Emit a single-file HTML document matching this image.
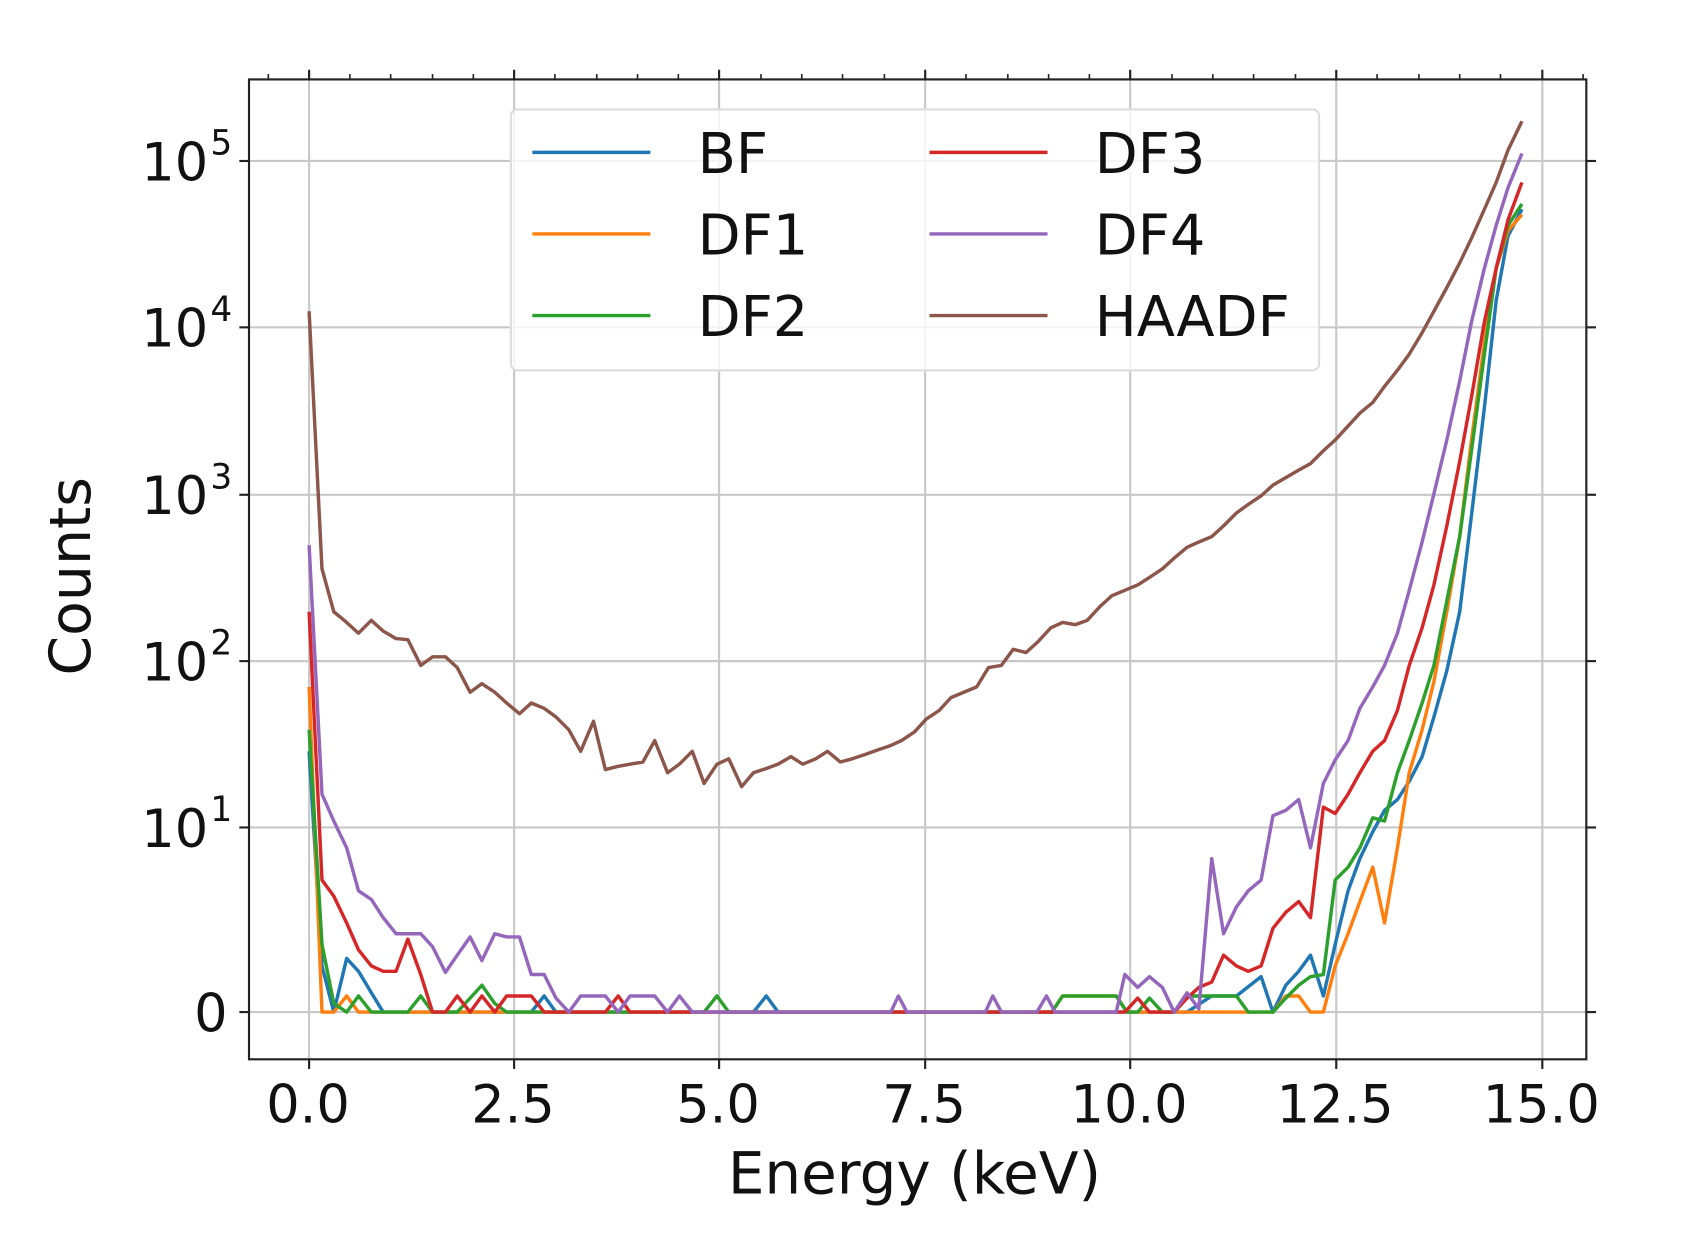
<!DOCTYPE html>
<html><head><meta charset="utf-8"><style>html,body{margin:0;padding:0;background:#fff}svg{display:block}</style></head><body>
<svg width="1684" height="1260" viewBox="0 0 1569 1174" preserveAspectRatio="none" xmlns="http://www.w3.org/2000/svg" font-family="DejaVu Sans, Liberation Sans, sans-serif">
<rect width="1569" height="1174" fill="#fff"/>
<g stroke="#c8c8c8" stroke-width="2">
<line x1="288" y1="74" x2="288" y2="987"/><line x1="479" y1="74" x2="479" y2="987"/><line x1="670" y1="74" x2="670" y2="987"/><line x1="862" y1="74" x2="862" y2="987"/><line x1="1053" y1="74" x2="1053" y2="987"/><line x1="1245" y1="74" x2="1245" y2="987"/><line x1="1437" y1="74" x2="1437" y2="987"/>
<line x1="232" y1="150" x2="1478" y2="150"/><line x1="232" y1="305" x2="1478" y2="305"/><line x1="232" y1="461" x2="1478" y2="461"/><line x1="232" y1="616" x2="1478" y2="616"/><line x1="232" y1="771" x2="1478" y2="771"/><line x1="232" y1="943" x2="1478" y2="943"/>
</g>
<g fill="none" stroke-width="3.2" stroke-linejoin="round">
<polyline stroke="#1f77b4" points="288,700 300,900 311,943 323,893 334,905 346,925 357,943 495,943 507,928 518,943 702,943 714,928 725,943 1106,943 1129,928 1152,928 1175,910 1186,943 1198,918 1210,905 1221,890 1233,928 1244,880 1256,830 1267,800 1279,775 1290,755 1302,745 1313,728 1325,705 1336,668 1348,625 1360,570 1371,480 1383,380 1394,280 1405,220 1418,195"/>
<polyline stroke="#ff7f0e" points="288,640 300,943 311,943 323,928 334,943 980,943 990,928 1040,928 1050,943 1186,943 1198,928 1210,928 1221,943 1233,943 1244,900 1256,870 1267,840 1279,808 1290,860 1302,790 1313,720 1325,680 1336,635 1348,570 1360,500 1371,410 1383,320 1394,250 1405,215 1418,200"/>
<polyline stroke="#2ca02c" points="288,680 300,880 311,935 323,943 334,928 346,943 380,943 392,928 403,943 426,943 438,930 449,918 461,935 472,943 656,943 668,928 679,943 980,943 990,928 1040,928 1050,943 1060,943 1071,930 1083,943 1094,943 1106,928 1152,928 1163,943 1186,943 1198,930 1210,918 1221,910 1233,908 1244,820 1256,808 1267,790 1279,762 1290,765 1302,720 1313,690 1325,655 1336,620 1348,560 1360,500 1371,420 1383,330 1394,250 1405,210 1418,190"/>
<polyline stroke="#d62728" points="288,570 300,820 311,835 323,860 334,885 346,900 357,905 369,905 380,875 392,908 403,943 415,943 426,928 438,943 449,928 461,943 472,928 495,928 507,943 564,943 576,928 587,943 1048,943 1060,930 1071,943 1094,943 1106,930 1117,920 1129,915 1140,890 1152,900 1163,905 1175,900 1186,865 1198,850 1210,840 1221,855 1233,752 1244,758 1256,740 1267,720 1279,700 1290,690 1302,662 1313,620 1325,585 1336,545 1348,490 1360,430 1371,370 1383,300 1394,250 1405,205 1418,170"/>
<polyline stroke="#9467bd" points="288,508 300,740 311,765 323,790 334,830 346,838 357,855 369,870 380,870 392,870 403,882 415,906 426,890 438,873 449,895 461,870 472,873 484,873 495,908 507,908 518,930 530,943 541,928 564,928 576,943 587,928 610,928 622,943 633,928 645,943 830,943 837,928 845,943 918,943 925,928 933,943 966,943 975,928 983,943 1040,943 1048,908 1060,920 1071,910 1083,920 1094,943 1106,925 1117,940 1129,800 1140,870 1152,845 1163,830 1175,820 1186,760 1198,755 1210,745 1221,790 1233,730 1244,708 1256,690 1267,660 1279,640 1290,620 1302,590 1313,550 1325,505 1336,460 1348,410 1360,355 1371,300 1383,250 1394,210 1405,175 1418,143"/>
<polyline stroke="#8c564b" points="288,290 300,530 311,570 323,580 334,590 346,578 357,588 369,595 380,596 392,620 403,612 415,612 426,622 438,645 449,637 461,645 472,655 484,665 495,655 507,660 518,668 530,680 541,700 553,672 564,717 576,714 587,712 599,710 610,690 622,720 633,712 645,700 656,730 668,712 679,707 691,733 702,720 714,716 725,712 737,705 748,712 760,707 771,700 783,710 794,707 806,703 817,699 829,695 840,690 852,682 863,670 875,662 886,650 898,645 910,640 921,622 933,620 944,605 956,608 967,598 979,585 990,580 1002,582 1013,578 1025,565 1036,555 1048,550 1060,545 1071,538 1083,530 1094,520 1106,510 1117,505 1129,500 1140,490 1152,478 1163,470 1175,462 1186,452 1198,445 1210,438 1221,432 1233,420 1244,410 1256,397 1267,385 1279,375 1290,360 1302,345 1313,330 1325,310 1336,290 1348,268 1360,245 1371,222 1383,195 1394,170 1405,140 1418,113"/>
</g>
<rect x="232" y="74" width="1246" height="913" fill="none" stroke="#222" stroke-width="2"/>
<g stroke="#222" stroke-width="2">
<line x1="288" y1="987" x2="288" y2="996"/><line x1="479" y1="987" x2="479" y2="996"/><line x1="670" y1="987" x2="670" y2="996"/><line x1="862" y1="987" x2="862" y2="996"/><line x1="1053" y1="987" x2="1053" y2="996"/><line x1="1245" y1="987" x2="1245" y2="996"/><line x1="1437" y1="987" x2="1437" y2="996"/>
<line x1="288" y1="74" x2="288" y2="65"/><line x1="479" y1="74" x2="479" y2="65"/><line x1="670" y1="74" x2="670" y2="65"/><line x1="862" y1="74" x2="862" y2="65"/><line x1="1053" y1="74" x2="1053" y2="65"/><line x1="1245" y1="74" x2="1245" y2="65"/><line x1="1437" y1="74" x2="1437" y2="65"/>
<line x1="223" y1="150" x2="232" y2="150"/><line x1="223" y1="305" x2="232" y2="305"/><line x1="223" y1="461" x2="232" y2="461"/><line x1="223" y1="616" x2="232" y2="616"/><line x1="223" y1="771" x2="232" y2="771"/><line x1="223" y1="943" x2="232" y2="943"/>
<line x1="1478" y1="150" x2="1487" y2="150"/><line x1="1478" y1="305" x2="1487" y2="305"/><line x1="1478" y1="461" x2="1487" y2="461"/><line x1="1478" y1="616" x2="1487" y2="616"/><line x1="1478" y1="771" x2="1487" y2="771"/><line x1="1478" y1="943" x2="1487" y2="943"/>
</g>
<g stroke="#222" stroke-width="1.5">
<line x1="250" y1="74" x2="250" y2="69"/><line x1="326" y1="74" x2="326" y2="69"/><line x1="364" y1="74" x2="364" y2="69"/><line x1="403" y1="74" x2="403" y2="69"/><line x1="441" y1="74" x2="441" y2="69"/><line x1="517" y1="74" x2="517" y2="69"/><line x1="556" y1="74" x2="556" y2="69"/><line x1="594" y1="74" x2="594" y2="69"/><line x1="632" y1="74" x2="632" y2="69"/><line x1="709" y1="74" x2="709" y2="69"/><line x1="747" y1="74" x2="747" y2="69"/><line x1="785" y1="74" x2="785" y2="69"/><line x1="824" y1="74" x2="824" y2="69"/><line x1="900" y1="74" x2="900" y2="69"/><line x1="939" y1="74" x2="939" y2="69"/><line x1="977" y1="74" x2="977" y2="69"/><line x1="1015" y1="74" x2="1015" y2="69"/><line x1="1092" y1="74" x2="1092" y2="69"/><line x1="1130" y1="74" x2="1130" y2="69"/><line x1="1168" y1="74" x2="1168" y2="69"/><line x1="1207" y1="74" x2="1207" y2="69"/><line x1="1283" y1="74" x2="1283" y2="69"/><line x1="1322" y1="74" x2="1322" y2="69"/><line x1="1360" y1="74" x2="1360" y2="69"/><line x1="1398" y1="74" x2="1398" y2="69"/><line x1="1475" y1="74" x2="1475" y2="69"/>
</g>
<rect x="476" y="102" width="753" height="243" rx="6" fill="#fff" fill-opacity="0.8" stroke="#ddd" stroke-width="2"/>
<g stroke-width="3.2">
<line x1="496" y1="142" x2="606" y2="142" stroke="#1f77b4"/><line x1="496" y1="218" x2="606" y2="218" stroke="#ff7f0e"/><line x1="496" y1="294" x2="606" y2="294" stroke="#2ca02c"/>
<line x1="866" y1="142" x2="976" y2="142" stroke="#d62728"/><line x1="866" y1="218" x2="976" y2="218" stroke="#9467bd"/><line x1="866" y1="294" x2="976" y2="294" stroke="#8c564b"/>
</g>
<g font-size="52" fill="#111">
<text x="650" y="161">BF</text><text x="650" y="237">DF1</text><text x="650" y="313">DF2</text>
<text x="1020" y="161">DF3</text><text x="1020" y="237">DF4</text><text x="1020" y="313">HAADF</text>
</g>
<g font-size="49" fill="#111" text-anchor="middle">
<text x="287" y="1046">0.0</text><text x="478" y="1046">2.5</text><text x="669" y="1046">5.0</text><text x="861" y="1046">7.5</text><text x="1052" y="1046">10.0</text><text x="1244" y="1046">12.5</text><text x="1436" y="1046">15.0</text>
</g>
<text x="852" y="1112" font-size="54" fill="#111" text-anchor="middle">Energy (keV)</text>
<g font-size="49" fill="#111" text-anchor="end">
<text x="194" y="168">10</text><text x="194" y="323">10</text><text x="194" y="479">10</text><text x="194" y="634">10</text><text x="194" y="789">10</text><text x="212" y="961">0</text>
</g>
<g font-size="32" fill="#111">
<text x="196" y="144">5</text><text x="196" y="299">4</text><text x="196" y="455">3</text><text x="196" y="610">2</text><text x="196" y="765">1</text>
</g>
<text transform="translate(84,537) rotate(-90)" font-size="53" fill="#111" text-anchor="middle">Counts</text>
</svg>
</body></html>
